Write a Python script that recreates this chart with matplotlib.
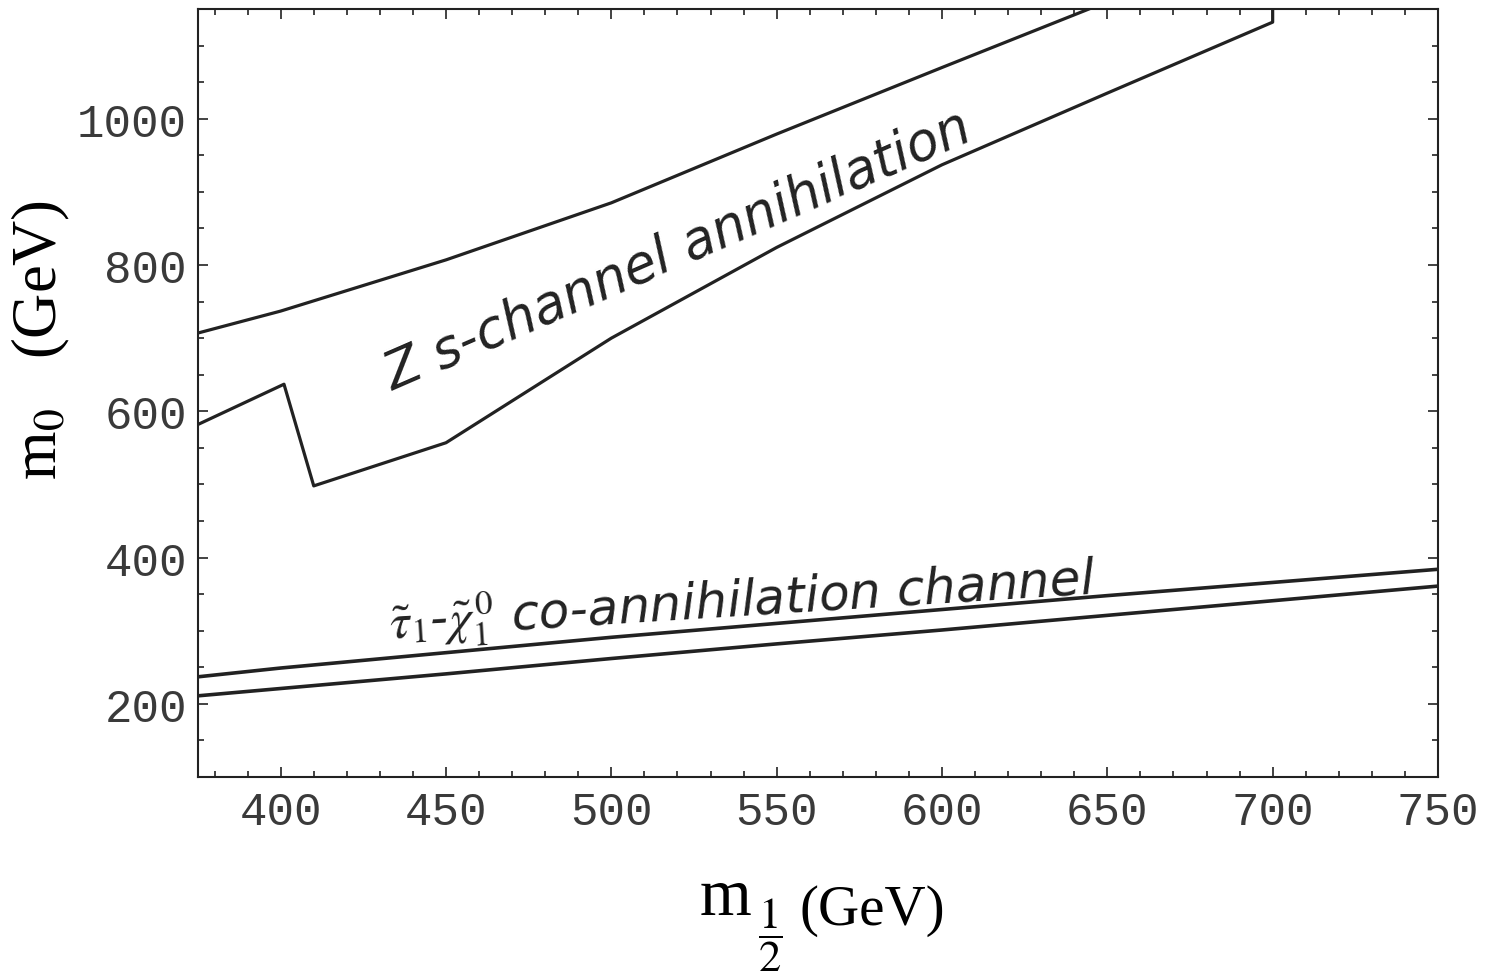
import numpy as np
import matplotlib
matplotlib.use("Agg")
import matplotlib.pyplot as plt
from matplotlib.ticker import MultipleLocator

plt.rcParams['mathtext.fontset'] = 'stix'

# Z s-channel annihilation band (upper / lower boundary)
z_up_x = [375, 400, 450, 500, 550, 600, 650]
z_up_y = [707, 737, 807, 885, 979, 1070, 1160]
z_lo_x = [375, 401, 410, 450, 500, 550, 600, 650, 700, 700]
z_lo_y = [582, 637, 498, 557, 700, 824, 937, 1035, 1132, 1170]

# stau - neutralino co-annihilation channel
co_x = [375, 400, 450, 500, 550, 600, 650, 700, 750]
co_up = [237, 249, 270, 291, 310, 329, 348, 366, 384]
co_lo = [211, 221, 241, 262, 282, 301, 321, 341, 361]

xticks = [400, 450, 500, 550, 600, 650, 700, 750]
yticks = [200, 400, 600, 800, 1000]

ink = '#222222'

fig = plt.figure(figsize=(14.99, 9.79), dpi=100)
ax = fig.add_axes([0.1321, 0.2053, 0.8272, 0.7845])

ax.plot(z_up_x, z_up_y, color=ink, lw=2.3)
ax.plot(z_lo_x, z_lo_y, color=ink, lw=2.3)
ax.plot(co_x, co_up, color=ink, lw=2.6)
ax.plot(co_x, co_lo, color=ink, lw=2.6)

ax.set_xlim(375, 750)
ax.set_ylim(100, 1150)
ax.set_xticks(xticks)
ax.set_yticks(yticks)
ax.xaxis.set_minor_locator(MultipleLocator(10))
ax.yaxis.set_minor_locator(MultipleLocator(50))
ax.tick_params(which='both', direction='in', top=True, right=True, color=ink, width=1.2)
ax.tick_params(which='major', length=7)
ax.tick_params(which='minor', length=4)
ax.tick_params(axis='x', pad=9)
ax.tick_params(axis='y', pad=8)
for lab in ax.get_xticklabels() + ax.get_yticklabels():
    lab.set_family('Liberation Mono')
    lab.set_fontsize(33)
    lab.set_color('#3a3a3a')
for s in ax.spines.values():
    s.set_color(ink)
    s.set_linewidth(1.5)

# y label
ax.set_ylabel(r'm$_0$   (GeV)', family='Liberation Serif', fontsize=45)
ax.yaxis.set_label_coords(-0.102, 0.57)

# x label: m with a stacked 1/2 below it, then (GeV)
fig.text(700 / 1499, 1 - 915 / 979, 'm', family='Liberation Serif', fontsize=48,
         ha='left', va='baseline', color='black')
fig.text(770 / 1499, 1 - 935 / 979, r'$\dfrac{1}{2}$', fontsize=32,
         ha='center', va='center', color='black')
fig.text(800 / 1499, 1 - 925 / 979, '(GeV)', family='Liberation Serif', fontsize=41,
         ha='left', va='baseline', color='black')

# handwritten-style annotations
ax.text(434, 628, 'Z s-channel annihilation', rotation=23.5, rotation_mode='anchor',
        fontsize=38, style='italic', color=ink)
ax.text(433, 290, r'$\tilde{\tau}_1$-$\tilde{\chi}_1^{\,0}$ co-annihilation channel',
        rotation=3.6, rotation_mode='anchor', fontsize=36, style='italic', color=ink)

fig.savefig('out.png', dpi=100)
